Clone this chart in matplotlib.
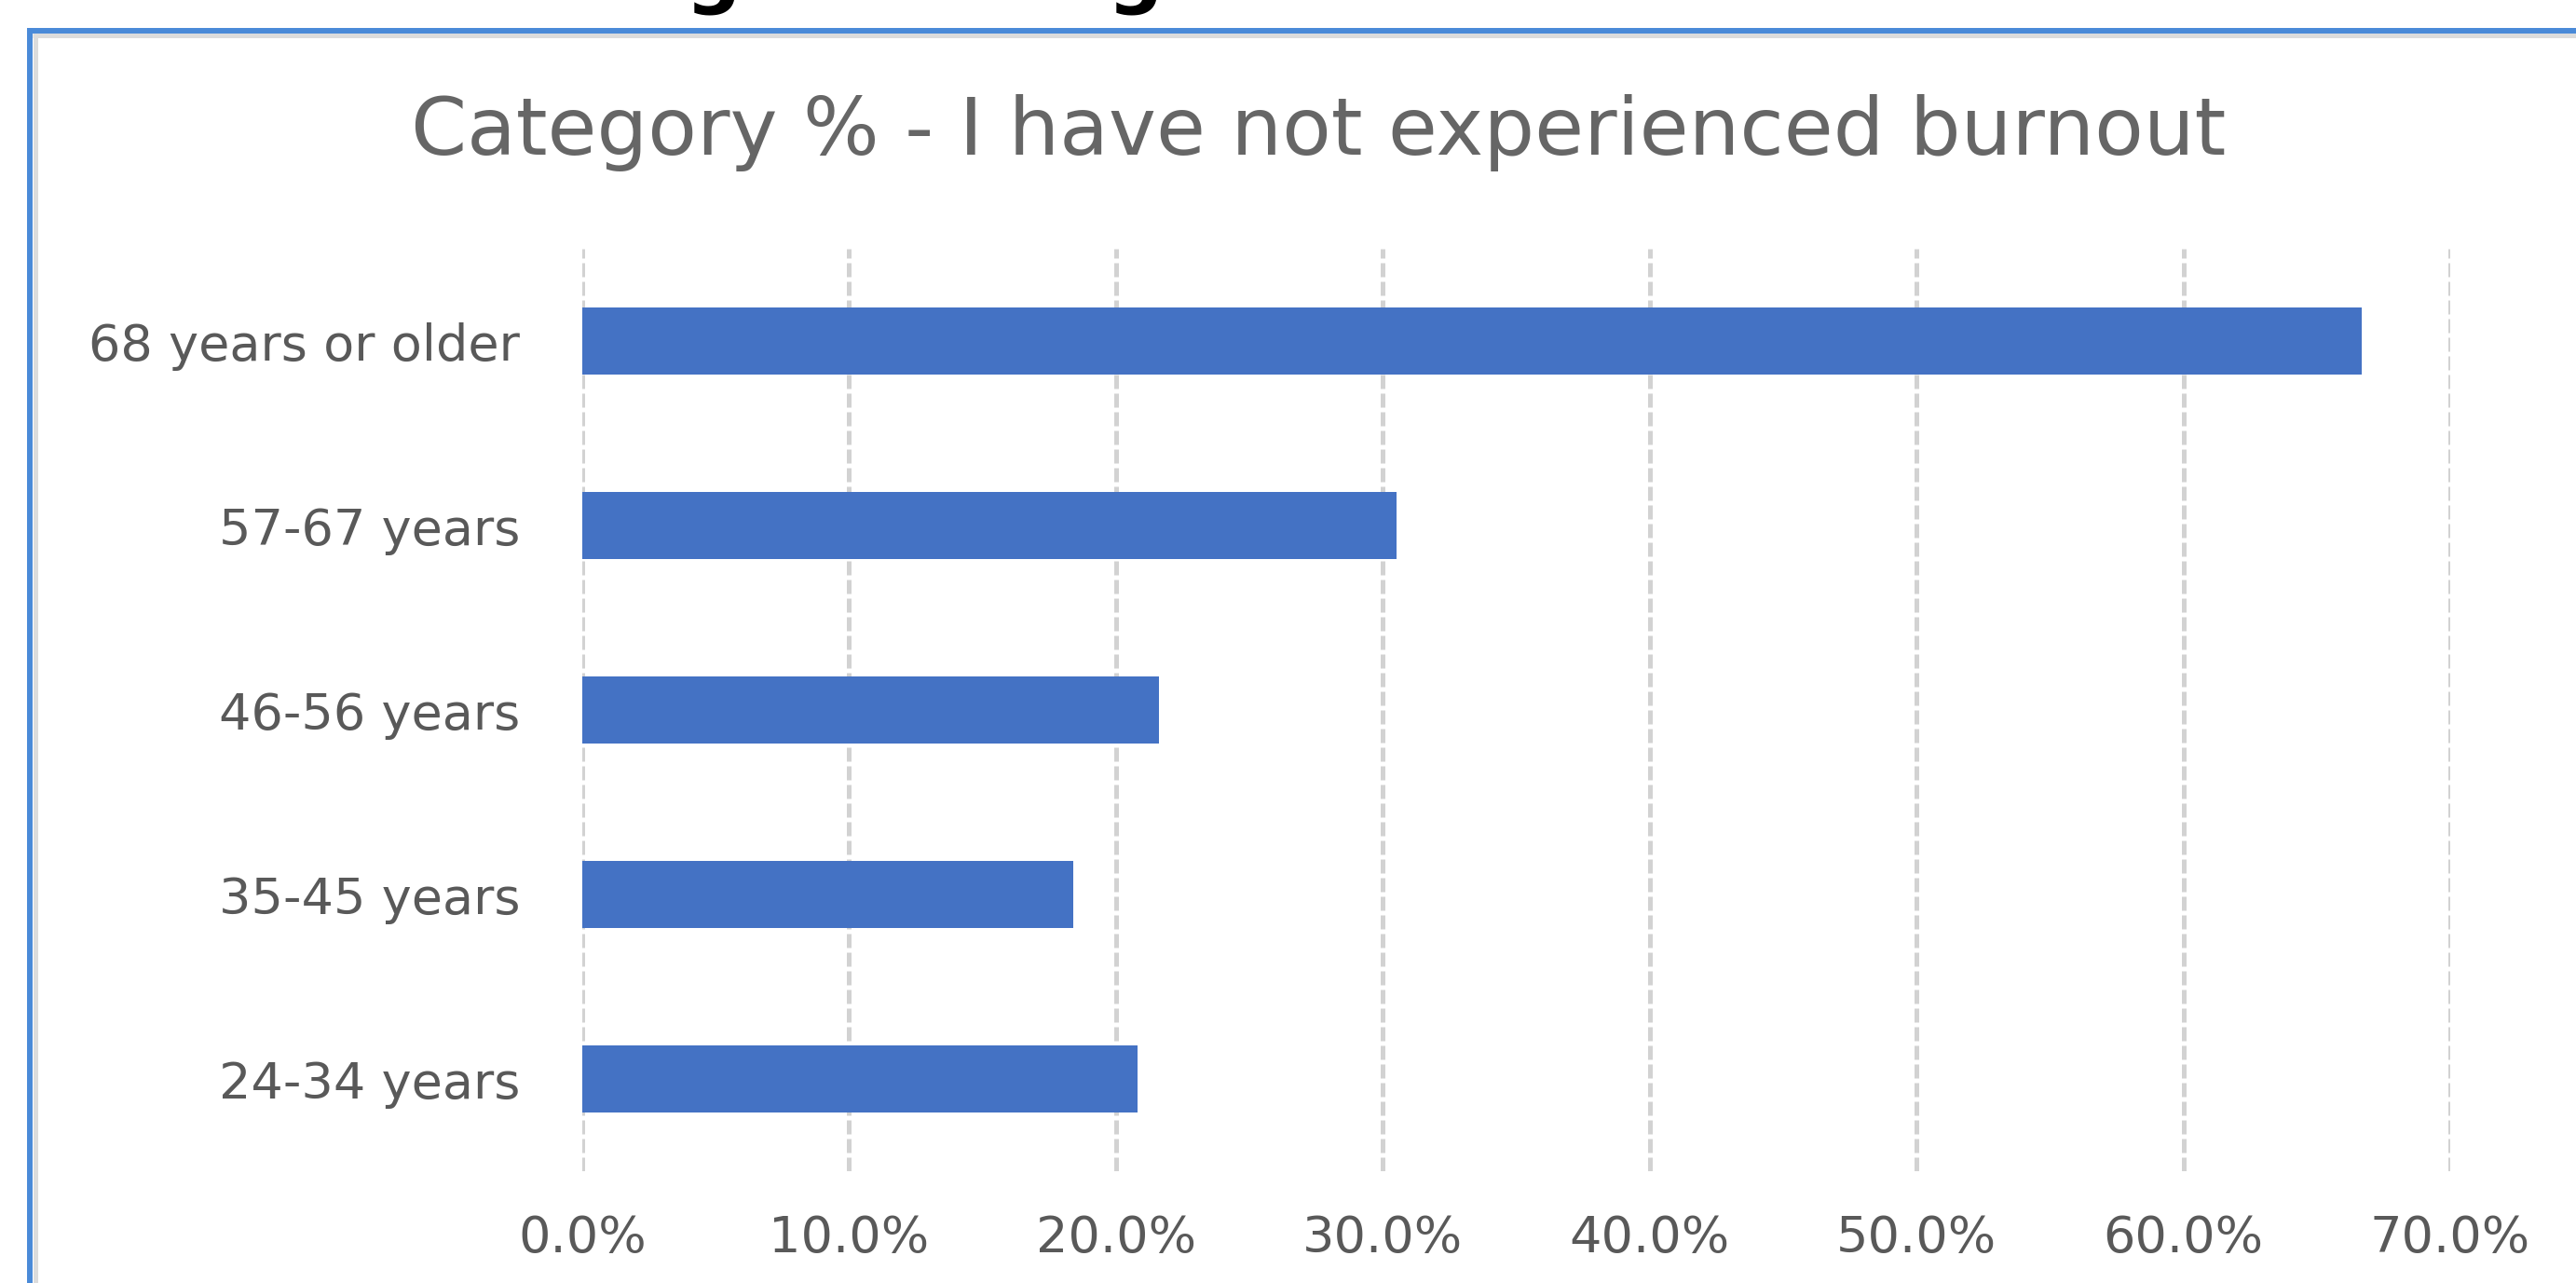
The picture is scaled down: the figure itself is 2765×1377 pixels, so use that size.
import matplotlib
matplotlib.use("Agg")
import matplotlib.pyplot as plt
from matplotlib.lines import Line2D
from matplotlib.ticker import FuncFormatter

categories = ["24-34 years", "35-45 years", "46-56 years", "57-67 years", "68 years or older"]
values = [0.208, 0.184, 0.216, 0.305, 0.667]
xticks = [0.0, 0.1, 0.2, 0.3, 0.4, 0.5, 0.6, 0.7]
title = "Category % - I have not experienced burnout"

W, H = 2765, 1377
fig = plt.figure(figsize=(W / 100, H / 100), dpi=100)
fig.patch.set_facecolor("white")

ax = fig.add_axes([625 / W, 1 - 1257 / H, 2005 / W, 990 / H])
ax.barh(range(len(categories)), values, height=0.36, color="#4472C4", zorder=3)
ax.set_xlim(0, 0.70)
ax.set_ylim(-0.5, len(categories) - 0.5)
ax.set_yticks(range(len(categories)))
ax.set_yticklabels(categories)
ax.set_xticks(xticks)
ax.xaxis.set_major_formatter(FuncFormatter(lambda v, p: f"{v * 100:.1f}%"))
for s in ax.spines.values():
    s.set_visible(False)
ax.tick_params(axis="both", length=0, labelsize=39, labelcolor="#595959")
ax.tick_params(axis="y", pad=48)
ax.tick_params(axis="x", pad=33)
for lab in ax.get_xticklabels() + ax.get_yticklabels():
    lab.set_family("DejaVu Sans")
ax.grid(axis="x", color="#D2D2D2", linewidth=3.6, linestyle=(0, (3, 1)), zorder=0)
ax.set_axisbelow(True)

fig.text(1415 / W, 1 - 142 / H, title, ha="center", va="center",
         fontsize=62, color="#666666", family="DejaVu Sans")

# outer frame (blue border with light gray inner edge)
fig.add_artist(Line2D([32 / W, 1.0], [1 - 32.5 / H, 1 - 32.5 / H], color="#4A8AD8", lw=4.3,
                      transform=fig.transFigure, solid_capstyle="butt"))
fig.add_artist(Line2D([35 / W, 1.0], [1 - 38 / H, 1 - 38 / H], color="#DCDCDC", lw=3.6,
                      transform=fig.transFigure, solid_capstyle="butt"))
fig.add_artist(Line2D([32 / W, 32 / W], [0, 1 - 30 / H], color="#4A8AD8", lw=4.3,
                      transform=fig.transFigure, solid_capstyle="butt"))
fig.add_artist(Line2D([37.5 / W, 37.5 / W], [0, 1 - 40 / H], color="#DCDCDC", lw=3.6,
                      transform=fig.transFigure, solid_capstyle="butt"))

# cut-off heading above the chart (only descenders visible)
fig.text(765 / W, 1 + 2 / H, "g", ha="center", va="baseline", fontsize=60,
         fontweight="bold", color="black", family="DejaVu Sans")
fig.text(1218 / W, 1 + 2 / H, "g", ha="center", va="baseline", fontsize=60,
         fontweight="bold", color="black", family="DejaVu Sans")

fig.savefig("out.png", dpi=100, facecolor="white")
